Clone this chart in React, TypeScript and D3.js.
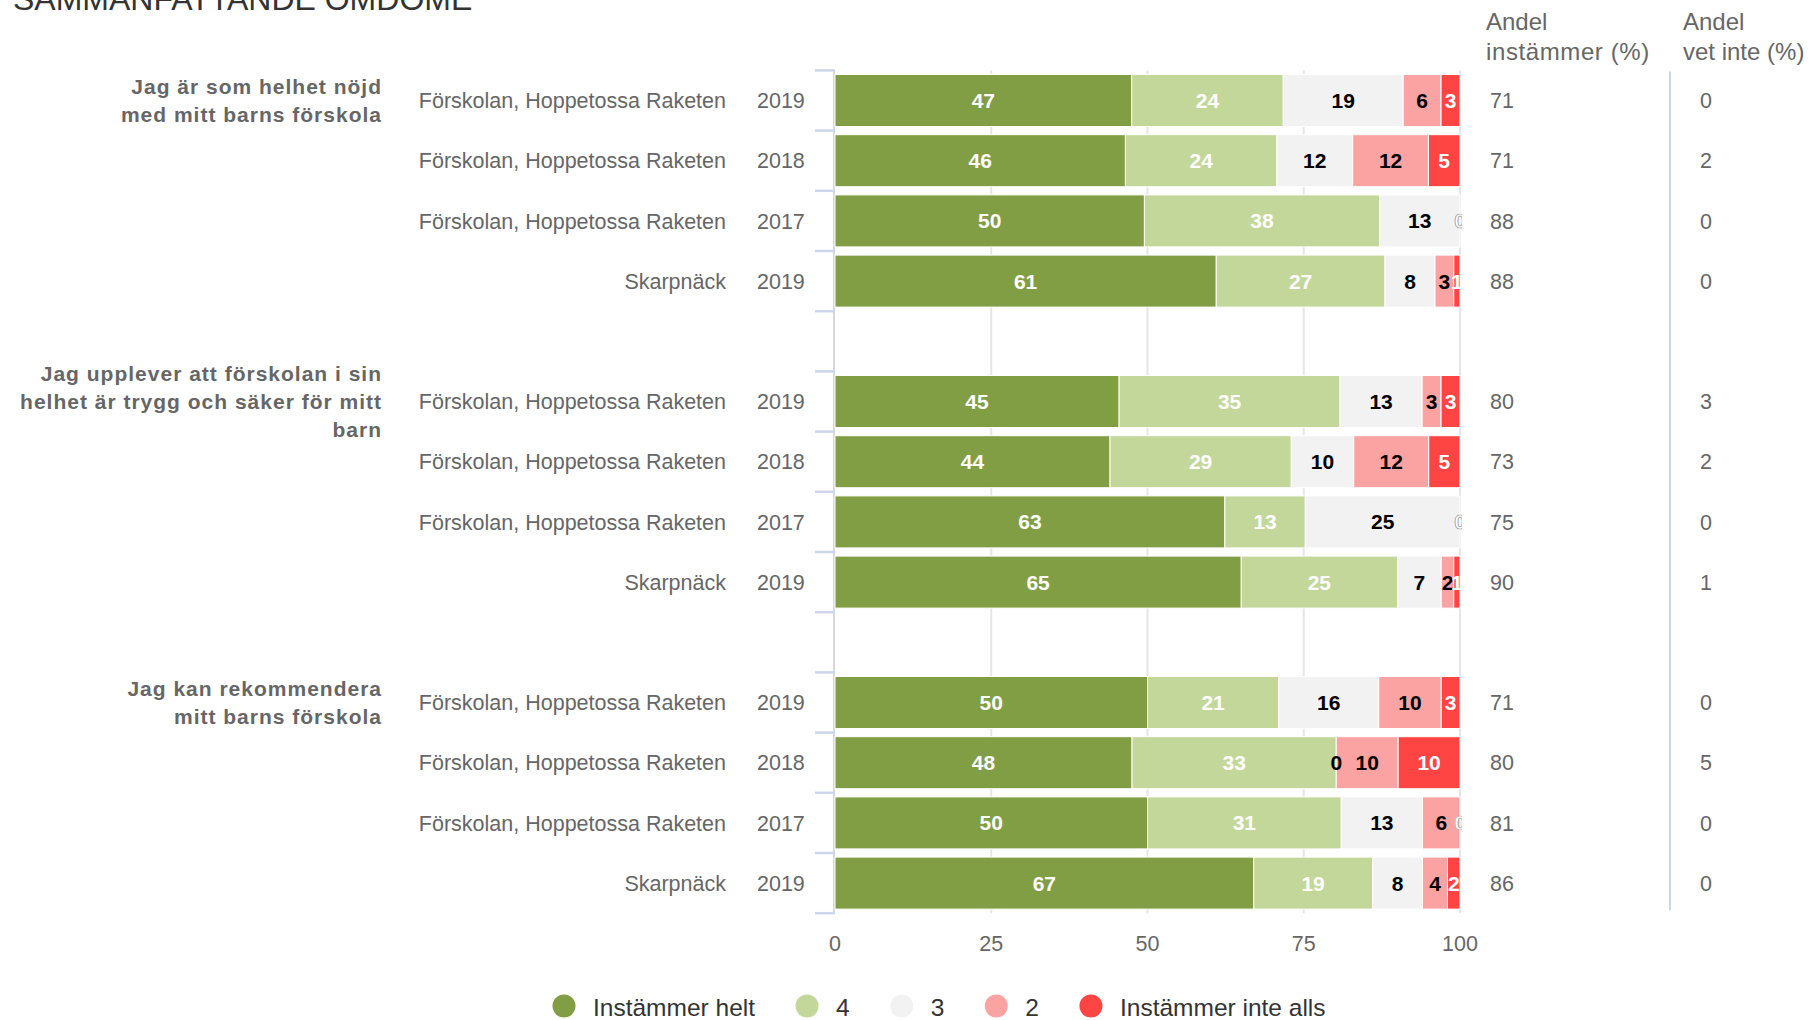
import React, { useEffect, useRef } from "react";
import * as d3 from "d3";

// ---------- data ----------
const titleText = "SAMMANFATTANDE OMDÖME";
const questionLines: string[][] = [
  ["Jag är som helhet nöjd", "med mitt barns förskola"],
  ["Jag upplever att förskolan i sin", "helhet är trygg och säker för mitt", "barn"],
  ["Jag kan rekommendera", "mitt barns förskola"],
];
const units = [
  "Förskolan, Hoppetossa Raketen",
  "Förskolan, Hoppetossa Raketen",
  "Förskolan, Hoppetossa Raketen",
  "Skarpnäck",
];
const years = ["2019", "2018", "2017", "2019"];
const seriesNames = ["Instämmer helt", "4", "3", "2", "Instämmer inte alls"];
const seriesColors = ["#829e44", "#c4d79b", "#f2f2f2", "#fba3a3", "#ff4444"];
const labelColors = ["#ffffff", "#ffffff", "#000000", "#000000", "#ffffff"];

const instammerHelt = [47, 46, 50, 61, 45, 44, 63, 65, 50, 48, 50, 67];
const betyg4 = [24, 24, 38, 27, 35, 29, 13, 25, 21, 33, 31, 19];
const betyg3 = [19, 12, 13, 8, 13, 10, 25, 7, 16, 0, 13, 8];
const betyg2 = [6, 12, 0, 3, 3, 12, 0, 2, 10, 10, 6, 4];
const instammerInteAlls = [3, 5, 0, 1, 3, 5, 0, 1, 3, 10, 0, 2];

const andelInstammer = [71, 71, 88, 88, 80, 73, 75, 90, 71, 80, 81, 86];
const andelVetInte = [0, 2, 0, 0, 3, 2, 0, 1, 0, 5, 0, 0];

const xTicks = [0, 25, 50, 75, 100];
const headerInstammer = ["Andel", "instämmer (%)"];
const headerVetInte = ["Andel", "vet inte (%)"];

const FONT = "'Liberation Sans', Arial, Helvetica, sans-serif";

export default function App() {
  const ref = useRef<SVGSVGElement | null>(null);

  useEffect(() => {
    const svg = d3.select(ref.current!);
    svg.selectAll("*").remove();
    svg.attr("font-family", FONT);

    const series = [instammerHelt, betyg4, betyg3, betyg2, instammerInteAlls];
    const perGroup = units.length;
    const rows = instammerHelt.map((_, i) => {
      const g = Math.floor(i / perGroup);
      const k = i % perGroup;
      const o: any = { idx: i, slot: g * (perGroup + 1) + k, group: g, item: k };
      series.forEach((s, si) => (o["s" + si] = s[i]));
      return o;
    });
    const nSlots = questionLines.length * (perGroup + 1) - 1;

    const x = d3.scaleLinear().domain([0, 100]).range([835, 1460]);
    const y = d3
      .scaleBand<number>()
      .domain(d3.range(nSlots))
      .range([70.4, 913.2])
      .paddingInner(0.136)
      .paddingOuter(0.068);
    const r0 = y.range()[0];
    const step = y.step();
    const bw = y.bandwidth();
    const yTop = r0;
    const yBot = r0 + step * nSlots;

    // clip for labels
    const defs = svg.append("defs");
    defs
      .append("clipPath")
      .attr("id", "plotclip")
      .append("rect")
      .attr("x", x(0))
      .attr("y", yTop)
      .attr("width", x(100) - x(0) + 2)
      .attr("height", yBot - yTop);

    // title (partly above the top edge, as in the reference)
    svg
      .append("text")
      .attr("x", 13)
      .attr("y", 10)
      .attr("font-size", 32)
      .attr("fill", "#333")
      .text(titleText);

    // gridlines
    svg
      .append("g")
      .selectAll("line")
      .data(xTicks.filter((t) => t > 0))
      .join("line")
      .attr("x1", (d) => x(d))
      .attr("x2", (d) => x(d))
      .attr("y1", yTop)
      .attr("y2", yBot)
      .attr("stroke", "#e6e6e6")
      .attr("stroke-width", 2);

    // axis line
    svg
      .append("line")
      .attr("x1", x(0) - 1)
      .attr("x2", x(0) - 1)
      .attr("y1", yTop)
      .attr("y2", yBot)
      .attr("stroke", "#d8d8d8")
      .attr("stroke-width", 2);

    // category ticks
    svg
      .append("g")
      .selectAll("line")
      .data(d3.range(nSlots + 1))
      .join("line")
      .attr("x1", x(0) - 20)
      .attr("x2", x(0))
      .attr("y1", (k) => r0 + k * step)
      .attr("y2", (k) => r0 + k * step)
      .attr("stroke", "#ccd6eb")
      .attr("stroke-width", 2.5);

    // stacked bars
    const keys = series.map((_, si) => "s" + si);
    const stacked = d3.stack<any>().keys(keys).offset(d3.stackOffsetExpand)(rows);

    const barG = svg.append("g");
    stacked.forEach((layer, si) => {
      barG
        .append("g")
        .selectAll("rect")
        .data(layer)
        .join("rect")
        .attr("x", (d) => x(d[0] * 100))
        .attr("width", (d) => Math.max(0, x(d[1] * 100) - x(d[0] * 100)))
        .attr("y", (d: any) => y(d.data.slot)!)
        .attr("height", bw)
        .attr("fill", seriesColors[si])
        .attr("stroke", "#ffffff")
        .attr("stroke-width", 1);
    });

    // data labels
    const labG = svg.append("g").attr("clip-path", "url(#plotclip)");
    stacked.forEach((layer, si) => {
      labG
        .append("g")
        .selectAll("text")
        .data(layer)
        .join("text")
        .attr("x", (d) => x(((d[0] + d[1]) / 2) * 100))
        .attr("y", (d: any) => y(d.data.slot)! + bw / 2)
        .attr("dy", "0.36em")
        .attr("text-anchor", "middle")
        .attr("font-size", 21)
        .attr("font-weight", "bold")
        .attr("fill", labelColors[si])
        .attr("stroke", (d: any) =>
          d.data["s" + si] === 0 && labelColors[si] === "#ffffff" ? "#a8a8a8" : "none"
        )
        .attr("stroke-width", 0.7)
        .text((d: any) => d.data["s" + si]);
    });

    // row labels
    const rowG = svg.append("g").attr("font-size", 21.5).attr("fill", "#666");
    rowG
      .selectAll("text.unit")
      .data(rows)
      .join("text")
      .attr("class", "unit")
      .attr("x", 726)
      .attr("y", (d) => y(d.slot)! + bw / 2)
      .attr("dy", "0.36em")
      .attr("text-anchor", "end")
      .text((d) => units[d.item]);
    rowG
      .selectAll("text.year")
      .data(rows)
      .join("text")
      .attr("class", "year")
      .attr("x", 757)
      .attr("y", (d) => y(d.slot)! + bw / 2)
      .attr("dy", "0.36em")
      .text((d) => years[d.item]);

    // value columns
    rowG
      .selectAll("text.andel")
      .data(rows)
      .join("text")
      .attr("class", "andel")
      .attr("x", 1490)
      .attr("y", (d) => y(d.slot)! + bw / 2)
      .attr("dy", "0.36em")
      .text((d) => andelInstammer[d.idx]);
    rowG
      .selectAll("text.vet")
      .data(rows)
      .join("text")
      .attr("class", "vet")
      .attr("x", 1700)
      .attr("y", (d) => y(d.slot)! + bw / 2)
      .attr("dy", "0.36em")
      .text((d) => andelVetInte[d.idx]);

    // headers
    const hdr = svg.append("g").attr("font-size", 24).attr("fill", "#666");
    headerInstammer.forEach((t, i) =>
      hdr
        .append("text")
        .attr("x", 1486)
        .attr("y", 21 + i * 30)
        .attr("dy", "0.36em")
        .attr("letter-spacing", i === 1 ? 0.6 : 0)
        .text(t)
    );
    headerVetInte.forEach((t, i) =>
      hdr.append("text").attr("x", 1683).attr("y", 21 + i * 30).attr("dy", "0.36em").text(t)
    );

    // separator
    svg
      .append("line")
      .attr("x1", 1670)
      .attr("x2", 1670)
      .attr("y1", yTop + 1)
      .attr("y2", yBot - 3)
      .attr("stroke", "#ccd6eb")
      .attr("stroke-width", 2);

    // question labels
    const qG = svg
      .append("g")
      .attr("font-size", 21)
      .attr("font-weight", "bold")
      .attr("fill", "#666")
      .attr("letter-spacing", 1);
    questionLines.forEach((lines, g) => {
      const cy = y(g * (perGroup + 1))! + bw / 2;
      lines.forEach((ln, li) => {
        qG
          .append("text")
          .attr("x", 382)
          .attr("y", cy + (li - (lines.length - 1) / 2) * 28)
          .attr("dy", "0.36em")
          .attr("text-anchor", "end")
          .text(ln);
      });
    });

    // x axis labels
    svg
      .append("g")
      .selectAll("text")
      .data(xTicks)
      .join("text")
      .attr("x", (d) => x(d))
      .attr("y", 943)
      .attr("dy", "0.36em")
      .attr("text-anchor", "middle")
      .attr("font-size", 21.5)
      .attr("fill", "#666")
      .text((d) => d);

    // legend
    const lg = svg.append("g");
    let cx = 564;
    seriesNames.forEach((name, i) => {
      lg.append("circle")
        .attr("cx", cx)
        .attr("cy", 1006)
        .attr("r", 11.5)
        .attr("fill", seriesColors[i]);
      const t = lg
        .append("text")
        .attr("x", cx + 29)
        .attr("y", 1007)
        .attr("dy", "0.36em")
        .attr("font-size", 24.5)
        .attr("fill", "#333")
        .text(name);
      const w = (t.node() as SVGTextElement).getComputedTextLength();
      cx = cx + 29 + w + 52;
    });
  }, []);

  return (
    <svg
      ref={ref}
      width={1810}
      height={1020}
      style={{ position: "absolute", left: 0, top: 0, background: "#fff" }}
    />
  );
}
